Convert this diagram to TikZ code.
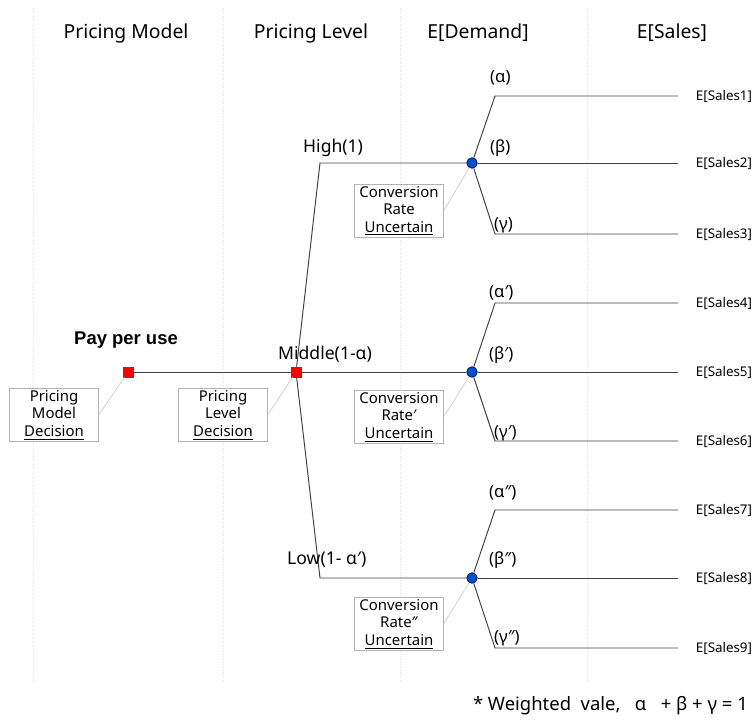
\documentclass[tikz,border=0pt]{standalone}
\usepackage{fontspec}
\setmainfont{Noto Sans}
\newfontfamily\ppufont{Liberation Sans}
\begin{document}
\begin{tikzpicture}[x=0.02cm, y=-0.02cm]

    % estilos
    \tikzstyle{divider}=[gray!25, densely dotted, line width=0.5pt]
    \tikzstyle{header}=[font=\fontsize{11}{13}\selectfont]
    \tikzstyle{decision}=[rectangle, draw=black!70, fill=red, minimum size=5.6pt, inner sep=0pt]
    \tikzstyle{chance}=[circle, draw=blue!40!black, fill=blue!60!cyan!80!black, minimum size=6pt, inner sep=0pt]
    \tikzstyle{infobox}=[rectangle, draw=gray!60, fill=white, align=center, text width=1.7cm,
                         minimum height=1.02cm, inner sep=1pt, font=\fontsize{8.5}{10}\selectfont]
    \tikzstyle{leader}=[gray!40, line width=0.4pt]
    \tikzstyle{branch}=[gray!50!black, line width=0.55pt]
    \tikzstyle{level}=[font=\fontsize{10}{12}\selectfont]
    \tikzstyle{prob}=[font=\fontsize{9.5}{11}\selectfont]
    \tikzstyle{sales}=[anchor=west, inner xsep=10pt, font=\fontsize{7.6}{9}\selectfont]

    \useasboundingbox (0,0) rectangle (756,719);

    %======================= COLUNAS =======================
    \foreach \x in {33,223,400,587}
      \draw[divider] (\x,8) -- (\x,682);

    \node[header] (hmodel) at (126,33) {Pricing Model};
    \node[header] (hlevel) at (311,33) {Pricing Level};
    \node[header] (hdemand) at (478,33) {E[Demand]};
    \node[header] (hsales) at (672,33) {E[Sales]};

    %======================= DECISOES =======================
    \node[decision] (dm) at (128,372) {};
    \node[decision] (dl) at (296,372) {};
    \node[font=\ppufont\bfseries\fontsize{10.5}{12}\selectfont] (ppu) at (126,340) {Pay per use};

    \node[infobox] (bm) at (54,415) {Pricing\\Model\\\underline{Decision}};
    \node[infobox] (bl) at (223,415) {Pricing\\Level\\\underline{Decision}};
    \draw[leader] (bm.east) -- (dm);
    \draw[leader] (bl.east) -- (dl);

    \draw[branch] (dm) -- (dl);

    % cantos dos niveis
    \coordinate (kh) at (320,163);
    \coordinate (kl) at (320,578);

    % nos de chance
    \node[chance] (c1) at (472,163) {};
    \node[chance] (c2) at (472,372) {};
    \node[chance] (c3) at (472,578) {};

    \draw[branch] (dl) -- (kh) -- (c1);
    \draw[branch] (dl) -- (c2);
    \draw[branch] (dl) -- (kl) -- (c3);

    \node[level, anchor=west] (lh) at (297,148) {High(1)};
    \node[level, anchor=west] (lm) at (272,354) {Middle(1-α)};
    \node[level, anchor=west] (ll) at (281,560) {Low(1- α′)};

    % caixas de incerteza
    \node[infobox] (u1) at (399,211) {Conversion\\Rate\\\underline{Uncertain}};
    \node[infobox] (u2) at (399,417) {Conversion\\Rate′\\\underline{Uncertain}};
    \node[infobox] (u3) at (399,624) {Conversion\\Rate″\\\underline{Uncertain}};
    \draw[leader] (u1.east) -- (c1);
    \draw[leader] (u2.east) -- (c2);
    \draw[leader] (u3.east) -- (c3);

    %======================= VENDAS =======================
    % coluna de vendas
    \node[sales] (s1) at (678,96)  {E[Sales1]};
    \node[sales] (s2) at (678,163) {E[Sales2]};
    \node[sales] (s3) at (678,234) {E[Sales3]};
    \node[sales] (s4) at (678,303) {E[Sales4]};
    \node[sales] (s5) at (678,372) {E[Sales5]};
    \node[sales] (s6) at (678,441) {E[Sales6]};
    \node[sales] (s7) at (678,510) {E[Sales7]};
    \node[sales] (s8) at (678,578) {E[Sales8]};
    \node[sales] (s9) at (678,648) {E[Sales9]};

    % cantos dos ramos
    \coordinate (a1) at (495,96);  \coordinate (g1) at (495,234);
    \coordinate (a2) at (495,303); \coordinate (g2) at (495,441);
    \coordinate (a3) at (495,510); \coordinate (g3) at (495,648);

    \draw[branch] (c1) -- (a1) -- (s1.west);
    \draw[branch] (c1) -- (s2.west);
    \draw[branch] (c1) -- (g1) -- (s3.west);
    \draw[branch] (c2) -- (a2) -- (s4.west);
    \draw[branch] (c2) -- (s5.west);
    \draw[branch] (c2) -- (g2) -- (s6.west);
    \draw[branch] (c3) -- (a3) -- (s7.west);
    \draw[branch] (c3) -- (s8.west);
    \draw[branch] (c3) -- (g3) -- (s9.west);

    % probabilidades
    \node[prob, anchor=west] (p1) at (484,78)  {(α)};
    \node[prob, anchor=west] (p2) at (484,148) {(β)};
    \node[prob, anchor=west] (p3) at (488,225) {(γ)};
    \node[prob, anchor=west] (p4) at (483,293) {(α′)};
    \node[prob, anchor=west] (p5) at (483,355) {(β′)};
    \node[prob, anchor=west] (p6) at (488,433) {(γ′)};
    \node[prob, anchor=west] (p7) at (483,493) {(α″)};
    \node[prob, anchor=west] (p8) at (483,560) {(β″)};
    \node[prob, anchor=west] (p9) at (488,638) {(γ″)};

    % nota
    \node[font=\fontsize{10.5}{12}\selectfont, anchor=east] (nota) at (754,706)
      {* Weighted\ \ vale,\ \ \ α\ \ \ + β + γ = 1};

\end{tikzpicture}
\end{document}
